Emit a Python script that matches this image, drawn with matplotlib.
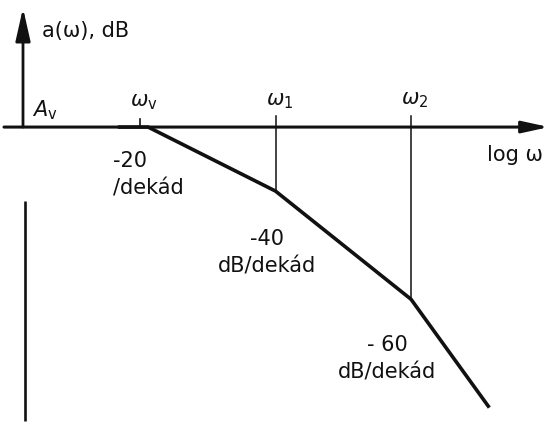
import matplotlib.pyplot as plt

# break frequencies, log omega in decades measured from omega_v
break_names = [r'$\omega_\mathrm{v}$', r'$\omega_1$', r'$\omega_2$']
break_logw = [0.0, 1.0, 2.0]

# asymptotic gain curve: log omega (decades) and gain relative to A_v (dB)
curve_logw = [-0.15, 0.06, 1.0, 2.0, 2.57]
curve_db = [0.0, 0.0, -20.0, -53.8, -87.2]

slope_texts = ['-20\n/dekád', '-40\ndB/dekád', '- 60\ndB/dekád']

W, H = 551, 426
fig = plt.figure(figsize=(W / 100, H / 100), dpi=100)
ax = fig.add_axes([0, 0, 1, 1])
ax.set_xlim(-1.033, 3.033)
ax.set_ylim(-93.4, 39.7)
ax.axis('off')

fs = 15
black = '#111111'

def px(x, y):
    # figure pixel (from top-left) -> axes data coordinates
    return ax.transData.inverted().transform((x, H - y))

# frequency axis with arrow
x0, _ = px(4, 0)
x1, _ = px(549, 0)
ax.annotate('', xy=(x1, 0), xytext=(x0, 0),
            arrowprops=dict(arrowstyle='-|>,head_length=1.6,head_width=0.35',
                            lw=2.2, color=black, shrinkA=0, shrinkB=0,
                            mutation_scale=10))

# gain axis with arrow
yx, ytop = px(23, 8)
ax.annotate('', xy=(yx, ytop), xytext=(yx, 0),
            arrowprops=dict(arrowstyle='-|>,head_length=2.0,head_width=0.45',
                            lw=2.0, color=black, shrinkA=0, shrinkB=0,
                            mutation_scale=10))

# lower part of the gain axis
lx, ly0 = px(25, 201)
_, ly1 = px(25, 421)
ax.plot([lx, lx], [ly0, ly1], color=black, lw=1.9, solid_capstyle='butt')

# tick at omega_v and drop lines at omega_1, omega_2
_, tick_top = px(0, 119)
ax.plot([break_logw[0]] * 2, [0, tick_top], color=black, lw=1.2)
_, drop_top = px(0, 116)
for lw_, db in zip(break_logw[1:], curve_db[2:4]):
    ax.plot([lw_, lw_], [db, drop_top], color=black, lw=1.1)

# asymptotic gain curve
ax.plot(curve_logw, curve_db, color=black, lw=2.6, solid_joinstyle='miter')

# labels
kw = dict(fontsize=fs, color=black)
tx, ty = px(42, 31)
ax.text(tx, ty, 'a(ω), dB', ha='left', va='center', **kw)
tx, ty = px(32, 110)
ax.text(tx, ty, r'$A_\mathrm{v}$', ha='left', va='center', **kw)
for name, lw_, ypx in zip(break_names, break_logw, [102, 101, 100]):
    _, ty = px(0, ypx)
    ax.text(lw_ + 0.03, ty, name, ha='center', va='center', **kw)
tx, ty = px(487, 155)
ax.text(tx, ty, 'log ω', ha='left', va='center', **kw)

slope_pos = [(113, 175, 'left'), (267, 253, 'center'), (387, 359, 'center')]
for text, (sx, sy, ha) in zip(slope_texts, slope_pos):
    tx, ty = px(sx, sy)
    ax.text(tx, ty, text, ha=ha, va='center', multialignment=ha,
            linespacing=1.45, **kw)

fig.savefig('out.png', dpi=100, facecolor='white')
